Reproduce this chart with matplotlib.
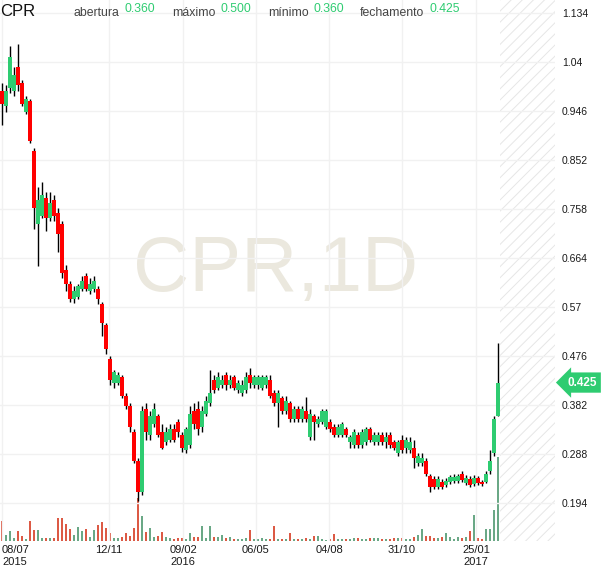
import numpy as np
import matplotlib
matplotlib.use('Agg')
import matplotlib.pyplot as plt
from matplotlib.transforms import blended_transform_factory

plt.rcParams['font.family'] = ['Liberation Sans', 'DejaVu Sans']
plt.rcParams['hatch.color'] = '#e6e6e6'
plt.rcParams['hatch.linewidth'] = 0.7

# ---- data (one candle per ~2.5 trading days) ----
opens = [0.985, 0.955, 0.990, 0.985, 1.030, 1.000, 0.945, 0.965, 0.870, 0.730,
         0.745, 0.780, 0.740, 0.775, 0.750, 0.730, 0.640, 0.615, 0.585, 0.590,
         0.605, 0.630, 0.600, 0.605, 0.605, 0.575, 0.535, 0.470, 0.425, 0.425,
         0.435, 0.400, 0.380, 0.330, 0.275, 0.215, 0.375, 0.325, 0.345, 0.360,
         0.330, 0.310, 0.315, 0.335, 0.350, 0.325, 0.295, 0.305, 0.370, 0.375,
         0.340, 0.365, 0.385, 0.430, 0.415, 0.420, 0.440, 0.420, 0.435, 0.410,
         0.405, 0.410, 0.440, 0.420, 0.420, 0.415, 0.420, 0.430, 0.405, 0.385,
         0.395, 0.370, 0.385, 0.355, 0.375, 0.355, 0.370, 0.320, 0.360, 0.345,
         0.350, 0.340, 0.350, 0.340, 0.325, 0.325, 0.335, 0.310, 0.305, 0.325,
         0.305, 0.310, 0.335, 0.310, 0.310, 0.325, 0.310, 0.325, 0.310, 0.290,
         0.315, 0.300, 0.295, 0.300, 0.270, 0.270, 0.275, 0.245, 0.240, 0.225,
         0.235, 0.228, 0.234, 0.236, 0.236, 0.250, 0.232, 0.240, 0.230, 0.242,
         0.234, 0.235, 0.255, 0.290, 0.360]
highs = [1.000, 0.995, 1.070, 1.030, 1.075, 1.005, 0.975, 0.970, 0.875, 0.800,
         0.810, 0.790, 0.790, 0.785, 0.760, 0.735, 0.650, 0.620, 0.610, 0.615,
         0.630, 0.635, 0.625, 0.630, 0.610, 0.580, 0.540, 0.475, 0.450, 0.445,
         0.440, 0.405, 0.385, 0.335, 0.280, 0.380, 0.385, 0.370, 0.385, 0.365,
         0.345, 0.340, 0.345, 0.345, 0.355, 0.330, 0.340, 0.380, 0.385, 0.390,
         0.380, 0.400, 0.450, 0.440, 0.445, 0.440, 0.445, 0.440, 0.440, 0.430,
         0.430, 0.445, 0.452, 0.440, 0.440, 0.440, 0.440, 0.440, 0.410, 0.410,
         0.400, 0.400, 0.390, 0.380, 0.380, 0.380, 0.398, 0.375, 0.365, 0.360,
         0.375, 0.375, 0.355, 0.345, 0.345, 0.350, 0.340, 0.325, 0.335, 0.330,
         0.335, 0.340, 0.340, 0.330, 0.330, 0.330, 0.330, 0.330, 0.315, 0.315,
         0.325, 0.320, 0.320, 0.315, 0.290, 0.290, 0.280, 0.250, 0.245, 0.245,
         0.240, 0.242, 0.248, 0.250, 0.250, 0.255, 0.248, 0.245, 0.248, 0.246,
         0.238, 0.255, 0.296, 0.360, 0.500]
lows = [0.919, 0.945, 0.980, 0.975, 0.985, 0.955, 0.940, 0.885, 0.720, 0.648,
        0.740, 0.715, 0.735, 0.735, 0.675, 0.625, 0.600, 0.580, 0.578, 0.585,
        0.600, 0.600, 0.595, 0.598, 0.575, 0.515, 0.480, 0.420, 0.415, 0.420,
        0.395, 0.375, 0.330, 0.270, 0.197, 0.210, 0.315, 0.315, 0.340, 0.320,
        0.298, 0.305, 0.310, 0.310, 0.320, 0.292, 0.290, 0.300, 0.335, 0.325,
        0.330, 0.360, 0.380, 0.405, 0.410, 0.415, 0.410, 0.415, 0.410, 0.405,
        0.400, 0.405, 0.415, 0.415, 0.412, 0.410, 0.415, 0.395, 0.380, 0.340,
        0.365, 0.365, 0.350, 0.350, 0.350, 0.350, 0.350, 0.315, 0.315, 0.340,
        0.345, 0.335, 0.330, 0.320, 0.320, 0.320, 0.320, 0.300, 0.300, 0.300,
        0.300, 0.305, 0.310, 0.305, 0.305, 0.305, 0.300, 0.300, 0.295, 0.285,
        0.290, 0.290, 0.290, 0.262, 0.265, 0.265, 0.245, 0.215, 0.220, 0.220,
        0.220, 0.224, 0.230, 0.232, 0.232, 0.235, 0.228, 0.224, 0.226, 0.228,
        0.227, 0.232, 0.250, 0.285, 0.360]
closes = [0.960, 0.985, 1.050, 1.015, 0.995, 0.960, 0.970, 0.888, 0.760, 0.775,
          0.785, 0.740, 0.770, 0.745, 0.710, 0.635, 0.615, 0.585, 0.600, 0.610,
          0.620, 0.605, 0.615, 0.620, 0.585, 0.540, 0.490, 0.430, 0.445, 0.440,
          0.400, 0.380, 0.340, 0.275, 0.215, 0.370, 0.330, 0.360, 0.375, 0.325,
          0.300, 0.330, 0.335, 0.315, 0.330, 0.300, 0.335, 0.365, 0.345, 0.335,
          0.370, 0.390, 0.405, 0.410, 0.435, 0.430, 0.420, 0.430, 0.415, 0.425,
          0.420, 0.435, 0.425, 0.435, 0.435, 0.435, 0.435, 0.400, 0.385, 0.405,
          0.370, 0.390, 0.355, 0.375, 0.355, 0.375, 0.355, 0.365, 0.350, 0.355,
          0.370, 0.370, 0.335, 0.325, 0.340, 0.345, 0.325, 0.320, 0.330, 0.305,
          0.330, 0.335, 0.315, 0.325, 0.325, 0.310, 0.320, 0.305, 0.300, 0.310,
          0.295, 0.315, 0.310, 0.280, 0.285, 0.280, 0.250, 0.225, 0.225, 0.240,
          0.225, 0.236, 0.244, 0.244, 0.246, 0.238, 0.242, 0.228, 0.242, 0.232,
          0.230, 0.250, 0.275, 0.355, 0.425]
volumes = [20, 6, 10, 3, 10, 5, 2, 20, 11, 11,
           3, 3, 3, 3, 23, 23, 17, 12, 6, 14,
           10, 12, 4, 11, 16, 19, 13, 8, 3, 3,
           4, 8, 5, 13, 43, 25, 9, 13, 4, 5,
           9, 4, 3, 2, 3, 3, 2, 8, 4, 4,
           15, 3, 15, 4, 4, 6, 3, 4, 2, 2,
           2, 3, 11, 2, 2, 3, 2, 2, 15, 2,
           2, 2, 8, 2, 2, 2, 3, 2, 5, 5,
           2, 1, 2, 7, 2, 2, 2, 2, 3, 3,
           2, 2, 3, 3, 3, 2, 2, 2, 3, 3,
           3, 2, 2, 4, 6, 12, 5, 5, 3, 3,
           4, 8, 4, 2, 4, 3, 4, 10, 26, 3,
           2, 12, 12, 31, 84]

tick_pos = [0, 26.75, 45.25, 63.5, 81.75, 100, 118.5]
tick_labels = ['08/07\n2015', '12/11', '09/02\n2016', '06/05', '04/08', '31/10', '25/01\n2017']
price_ticks = [1.134, 1.04, 0.946, 0.852, 0.758, 0.664, 0.57, 0.476, 0.382, 0.288, 0.194]
price_labels = ['1.134', '1.04', '0.946', '0.852', '0.758', '0.664', '0.57', '0.476',
                '0.382', '0.288', '0.194']

symbol = 'CPR'
interval = '1D'
last_close = 0.425
header_items = [('abertura', '0.360'), ('máximo', '0.500'), ('mínimo', '0.360'),
                ('fechamento', '0.425')]

# ---- colours ----
UP = '#2ecc71'
DOWN = '#ff0000'
VOL_UP = '#6aa886'
VOL_DOWN = '#dc5a45'

o = np.array(opens); h = np.array(highs); l = np.array(lows); c = np.array(closes)
v = np.array(volumes)
x = np.arange(len(o))
up = c >= o

W, H = 610, 568
fig = plt.figure(figsize=(W / 100, H / 100), dpi=100)
ax_rect = [0, 27 / H, 555 / W, 541 / H]
axv = fig.add_axes(ax_rect)
ax = fig.add_axes(ax_rect, sharex=axv)
ax.patch.set_visible(False)

xlim = (-0.5, 138.25)
axv.set_xlim(*xlim)
ax.set_ylim(0.121, 1.159)
axv.set_ylim(0, 541)
axv.axis('off')

# future (hatched) area
axv.axvspan(124.5, xlim[1], facecolor='none', edgecolor='#e6e6e6', hatch='///', lw=0, zorder=0)

# watermark
axv.text(0.497, 0.50, f'{symbol},{interval}', transform=axv.transAxes, ha='center', va='center',
         fontsize=56, color='#ebe8de', zorder=0)

# volume
axv.bar(x, v, width=0.6, color=np.where(up, VOL_UP, VOL_DOWN), linewidth=0, zorder=2)

# candles
ax.vlines(x, l, h, color='black', lw=1.0, zorder=3)
bottom = np.minimum(o, c)
height = np.maximum(np.abs(c - o), 0.003)
ax.bar(x, height, bottom=bottom, width=0.9, color=np.where(up, UP, DOWN), linewidth=0, zorder=4)

# axes styling
for s in ax.spines.values():
    s.set_visible(False)
ax.yaxis.tick_right()
ax.set_yticks(price_ticks, price_labels)
ax.set_xticks(tick_pos, tick_labels)
ax.tick_params(axis='y', length=0, pad=5, labelsize=7.5, labelcolor='#1a1a1a')
ax.tick_params(axis='x', length=0, pad=3, labelsize=8, labelcolor='#1a1a1a')
ax.xaxis.get_majorticklabels()[0].set_horizontalalignment('left')
ax.grid(True, color='#f1f1f1', lw=1)
ax.set_axisbelow(True)

# last price tag
tr = blended_transform_factory(ax.transAxes, ax.transData)
ax.text(1.0486, last_close, f'{last_close:.3f}', transform=tr, ha='center', va='center',
        color='white', fontsize=8.5, fontweight='bold', clip_on=False,
        bbox=dict(boxstyle='larrow,pad=0.35', fc=UP, ec='none'))

# header
fig.text(0 / W, 1 - 16 / H, symbol, fontsize=12, color='#111', va='baseline')
xpos = [74, 172, 268, 360]
for (lab, val), px in zip(header_items, xpos):
    t = fig.text(px / W, 1 - 16 / H, lab, fontsize=8.8, color='#444', va='baseline')
    fig.canvas.draw()
    bb = t.get_window_extent()
    fig.text((bb.x1 + 5) / W, 1 - 12 / H, val, fontsize=8.8, color=UP, va='baseline')

fig.savefig('out.png', dpi=100)
